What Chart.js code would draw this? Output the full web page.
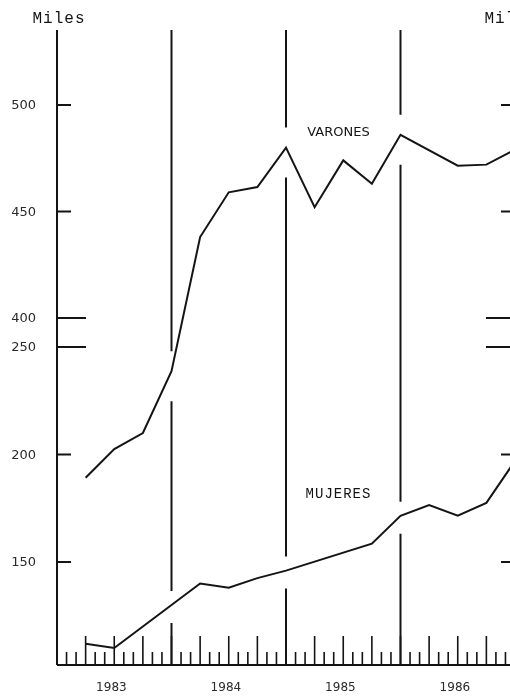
<!DOCTYPE html>
<html>
<head>
<meta charset="utf-8">
<title>Varones / Mujeres</title>
<script src="https://cdn.jsdelivr.net/npm/chart.js@4/dist/chart.umd.min.js"></script>
<style>
  html, body { margin: 0; padding: 0; background: #fff; overflow: hidden; }
  #chartCanvas { display: block; }
</style>
</head>
<body>
<canvas id="chartCanvas" width="600" height="699"></canvas>
<script>
// months counted from Jan 1983 (end of each quarter)
const quarterMonths = [3, 6, 9, 12, 15, 18, 21, 24, 27, 30, 33, 36, 39, 42, 45, 48];
// miles, upper scale
const varones = [325, 338.5, 346, 375, 438, 459, 461.5, 480, 452, 474, 463, 486, null, 471.5, 472, 479];
// miles, lower scale
const mujeres = [112, 110, null, null, 140, 138, 142.5, 146, null, null, 158.5, 171.5, 176.5, 171.5, 177.5, 197];

const upperTicks = [400, 450, 500];
const lowerTicks = [150, 200, 250];
const yearLabels = ['1983', '1984', '1985', '1986'];
const yearBreaks = [12, 24, 36];

const INK = '#141414';

function toPoints(values) {
    return quarterMonths.map((m, i) => ({ x: m, y: values[i] }));
}

// crossing height of a drawn line at a given pixel x
function lineYAt(meta, px) {
    const pts = meta.data.filter(p => !p.skip);
    for (let i = 0; i < pts.length - 1; i++) {
        const a = pts[i], b = pts[i + 1];
        if (px >= a.x && px <= b.x) {
            return a.y + (b.y - a.y) * (px - a.x) / (b.x - a.x);
        }
    }
    return null;
}

const scanDecor = {
    id: 'scanDecor',
    beforeDatasetsDraw(chart) {
        const ctx = chart.ctx;
        const area = chart.chartArea;
        const xs = chart.scales.x;
        const yV = chart.scales.yV;
        const yM = chart.scales.yM;

        ctx.save();
        ctx.strokeStyle = INK;
        ctx.lineCap = 'butt';

        // year separators, broken where the lines pass
        ctx.lineWidth = 2;
        yearBreaks.forEach(m => {
            const px = xs.getPixelForValue(m);
            const gaps = [];
            const cv = lineYAt(chart.getDatasetMeta(0), px);
            if (cv !== null) gaps.push([cv - 20, cv + 30]);
            const cm = lineYAt(chart.getDatasetMeta(1), px);
            if (cm !== null) gaps.push([cm - 14, cm + 18]);
            gaps.sort((a, b) => a[0] - b[0]);
            let start = area.top;
            ctx.beginPath();
            gaps.forEach(g => {
                ctx.moveTo(px, start);
                ctx.lineTo(px, g[0]);
                start = g[1];
            });
            ctx.moveTo(px, start);
            ctx.lineTo(px, area.bottom);
            ctx.stroke();
        });

        // axes
        ctx.beginPath();
        ctx.moveTo(area.left, area.top);
        ctx.lineTo(area.left, area.bottom);
        ctx.moveTo(area.right, area.top);
        ctx.lineTo(area.right, area.bottom);
        ctx.moveTo(area.left, area.bottom);
        ctx.lineTo(area.right, area.bottom);
        ctx.stroke();

        // monthly ticks on the base, taller every quarter
        ctx.lineWidth = 1.6;
        ctx.beginPath();
        for (let m = 1; m < 48; m++) {
            const px = xs.getPixelForValue(m);
            const len = m % 3 === 0 ? 29 : 13;
            ctx.moveTo(px, area.bottom);
            ctx.lineTo(px, area.bottom - len);
        }
        ctx.stroke();

        // value ticks, long marks at the break of the scale
        ctx.lineWidth = 2;
        const marks = [];
        upperTicks.forEach(v => marks.push({ y: yV.getPixelForValue(v), long: v === upperTicks[0] }));
        lowerTicks.forEach(v => marks.push({ y: yM.getPixelForValue(v), long: v === lowerTicks[lowerTicks.length - 1] }));
        ctx.beginPath();
        marks.forEach(k => {
            const len = k.long ? 29 : 14;
            ctx.moveTo(area.left, k.y);
            ctx.lineTo(area.left + len, k.y);
            ctx.moveTo(area.right - len, k.y);
            ctx.lineTo(area.right, k.y);
        });
        ctx.stroke();

        // value labels
        ctx.fillStyle = '#2a2a2a';
        ctx.font = '13px "DejaVu Sans"';
        ctx.textAlign = 'right';
        ctx.textBaseline = 'middle';
        upperTicks.forEach(v => ctx.fillText(String(v), area.left - 21, yV.getPixelForValue(v) + 1));
        lowerTicks.forEach(v => ctx.fillText(String(v), area.left - 21, yM.getPixelForValue(v) + 1));

        // year labels
        ctx.font = '12px "DejaVu Sans"';
        ctx.textAlign = 'center';
        yearLabels.forEach((t, i) => ctx.fillText(t, xs.getPixelForValue(12 * i + 5.7), 688));

        // unit labels
        ctx.fillStyle = INK;
        ctx.font = '16px "Liberation Mono"';
        ctx.letterSpacing = '1px';
        ctx.textBaseline = 'alphabetic';
        ctx.fillText('Miles', area.left + 2, 23);
        ctx.fillText('Miles', area.right - 4, 23);
        ctx.letterSpacing = '0px';

        // series names
        ctx.font = '13px "DejaVu Sans"';
        ctx.textBaseline = 'middle';
        ctx.fillText('VARONES', xs.getPixelForValue(29.5), yV.getPixelForValue(487));
        ctx.font = '14px "Liberation Mono"';
        ctx.letterSpacing = '1px';
        ctx.fillText('MUJERES', xs.getPixelForValue(29.5), yM.getPixelForValue(181.5));
        ctx.restore();
    }
};

const canvas = document.getElementById('chartCanvas');

new Chart(canvas.getContext('2d'), {
    type: 'line',
    data: {
        datasets: [
            {
                label: 'VARONES',
                data: toPoints(varones),
                yAxisID: 'yV',
                borderColor: INK,
                borderWidth: 2,
                pointRadius: 0,
                tension: 0,
                spanGaps: true
            },
            {
                label: 'MUJERES',
                data: toPoints(mujeres),
                yAxisID: 'yM',
                borderColor: INK,
                borderWidth: 2,
                pointRadius: 0,
                tension: 0,
                spanGaps: true
            }
        ]
    },
    options: {
        responsive: false,
        animation: false,
        layout: {
            padding: { left: 57, right: 85, top: 30, bottom: 34 }
        },
        plugins: {
            legend: { display: false },
            tooltip: { enabled: false }
        },
        scales: {
            x: { type: 'linear', min: 0, max: 48, display: false },
            yV: { type: 'linear', position: 'left', min: 237.1, max: 535.2, display: false },
            yM: { type: 'linear', position: 'left', min: 102.1, max: 397.4, display: false }
        }
    },
    plugins: [scanDecor]
});
</script>
</body>
</html>
